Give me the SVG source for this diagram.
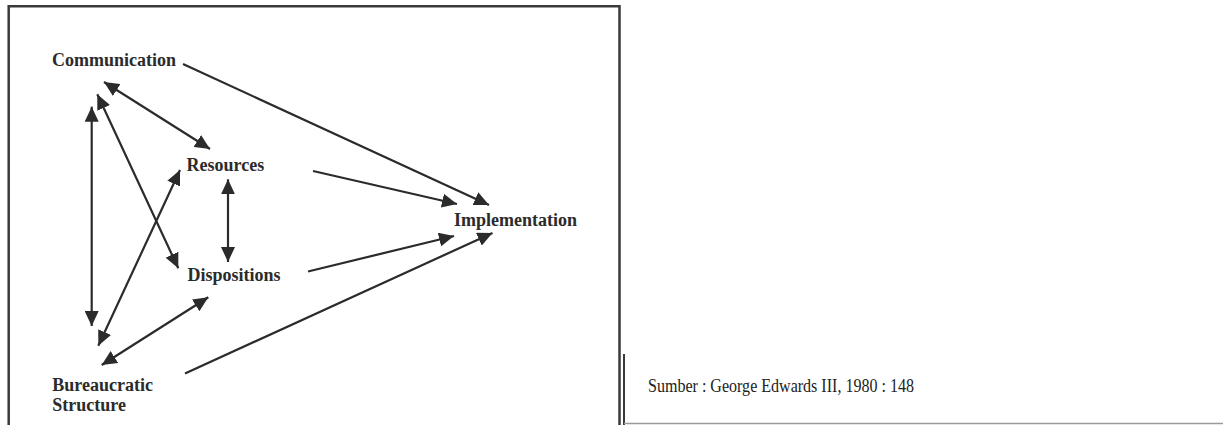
<svg xmlns="http://www.w3.org/2000/svg" width="1223" height="425" viewBox="0 0 1223 425">
<defs>
<style>
.lbl{font-family:"Liberation Serif","Times New Roman",serif;font-weight:bold;font-size:18px;fill:#2b2b2b}
.src{font-family:"Liberation Serif","Times New Roman",serif;font-size:19px;fill:#222}
.con{stroke:#2b2b2b;stroke-width:2.2;fill:none}
.one{marker-end:url(#ah)}
.two{marker-start:url(#ah);marker-end:url(#ah)}
</style>
<marker id="ah" markerUnits="userSpaceOnUse" markerWidth="16" markerHeight="14" refX="15" refY="7" orient="auto-start-reverse" viewBox="0 0 16 14">
<path d="M0,0 L15,7 L0,14 Z" fill="#2b2b2b"/>
</marker>
</defs>
<rect x="0" y="0" width="1223" height="425" fill="#fff"/>
<g id="frame">
<path d="M8.7,425 V6.3 H619.5 V425" fill="none" stroke="#3a3a3a" stroke-width="2.5"/>
<line x1="624" y1="354" x2="624" y2="425" stroke="#3a3a3a" stroke-width="2"/>
<line x1="624" y1="423.5" x2="1223" y2="423.5" stroke="#9a9a9a" stroke-width="1.5"/>
</g>
<g id="connectors">
<line class="con one" x1="183" y1="64" x2="489" y2="205"/>
<line class="con one" x1="313" y1="171" x2="457" y2="204"/>
<line class="con one" x1="308" y1="271.5" x2="454" y2="236"/>
<line class="con one" x1="185" y1="373.5" x2="492.5" y2="233"/>
<line class="con two" x1="104" y1="82" x2="210" y2="149"/>
<line class="con two" x1="97.3" y1="94.3" x2="178.3" y2="268.3"/>
<line class="con two" x1="91.7" y1="106.7" x2="91.7" y2="326"/>
<line class="con two" x1="180" y1="170" x2="98.3" y2="345.7"/>
<line class="con two" x1="228" y1="179.3" x2="228" y2="262"/>
<line class="con two" x1="208.3" y1="297.3" x2="101.7" y2="365"/>
</g>
<g id="communication"><text class="lbl" x="52" y="66">Communication</text></g>
<g id="resources"><text class="lbl" x="186.5" y="171">Resources</text></g>
<g id="dispositions"><text class="lbl" x="187.5" y="281">Dispositions</text></g>
<g id="implementation"><text class="lbl" x="454" y="226">Implementation</text></g>
<g id="bureaucratic-structure"><text class="lbl" x="52.3" y="390.7">Bureaucratic</text><text class="lbl" x="52.3" y="410.7">Structure</text></g>
<g id="source"><text class="src" x="648" y="392" textLength="266" lengthAdjust="spacingAndGlyphs">Sumber : George Edwards III, 1980 : 148</text></g>
</svg>
